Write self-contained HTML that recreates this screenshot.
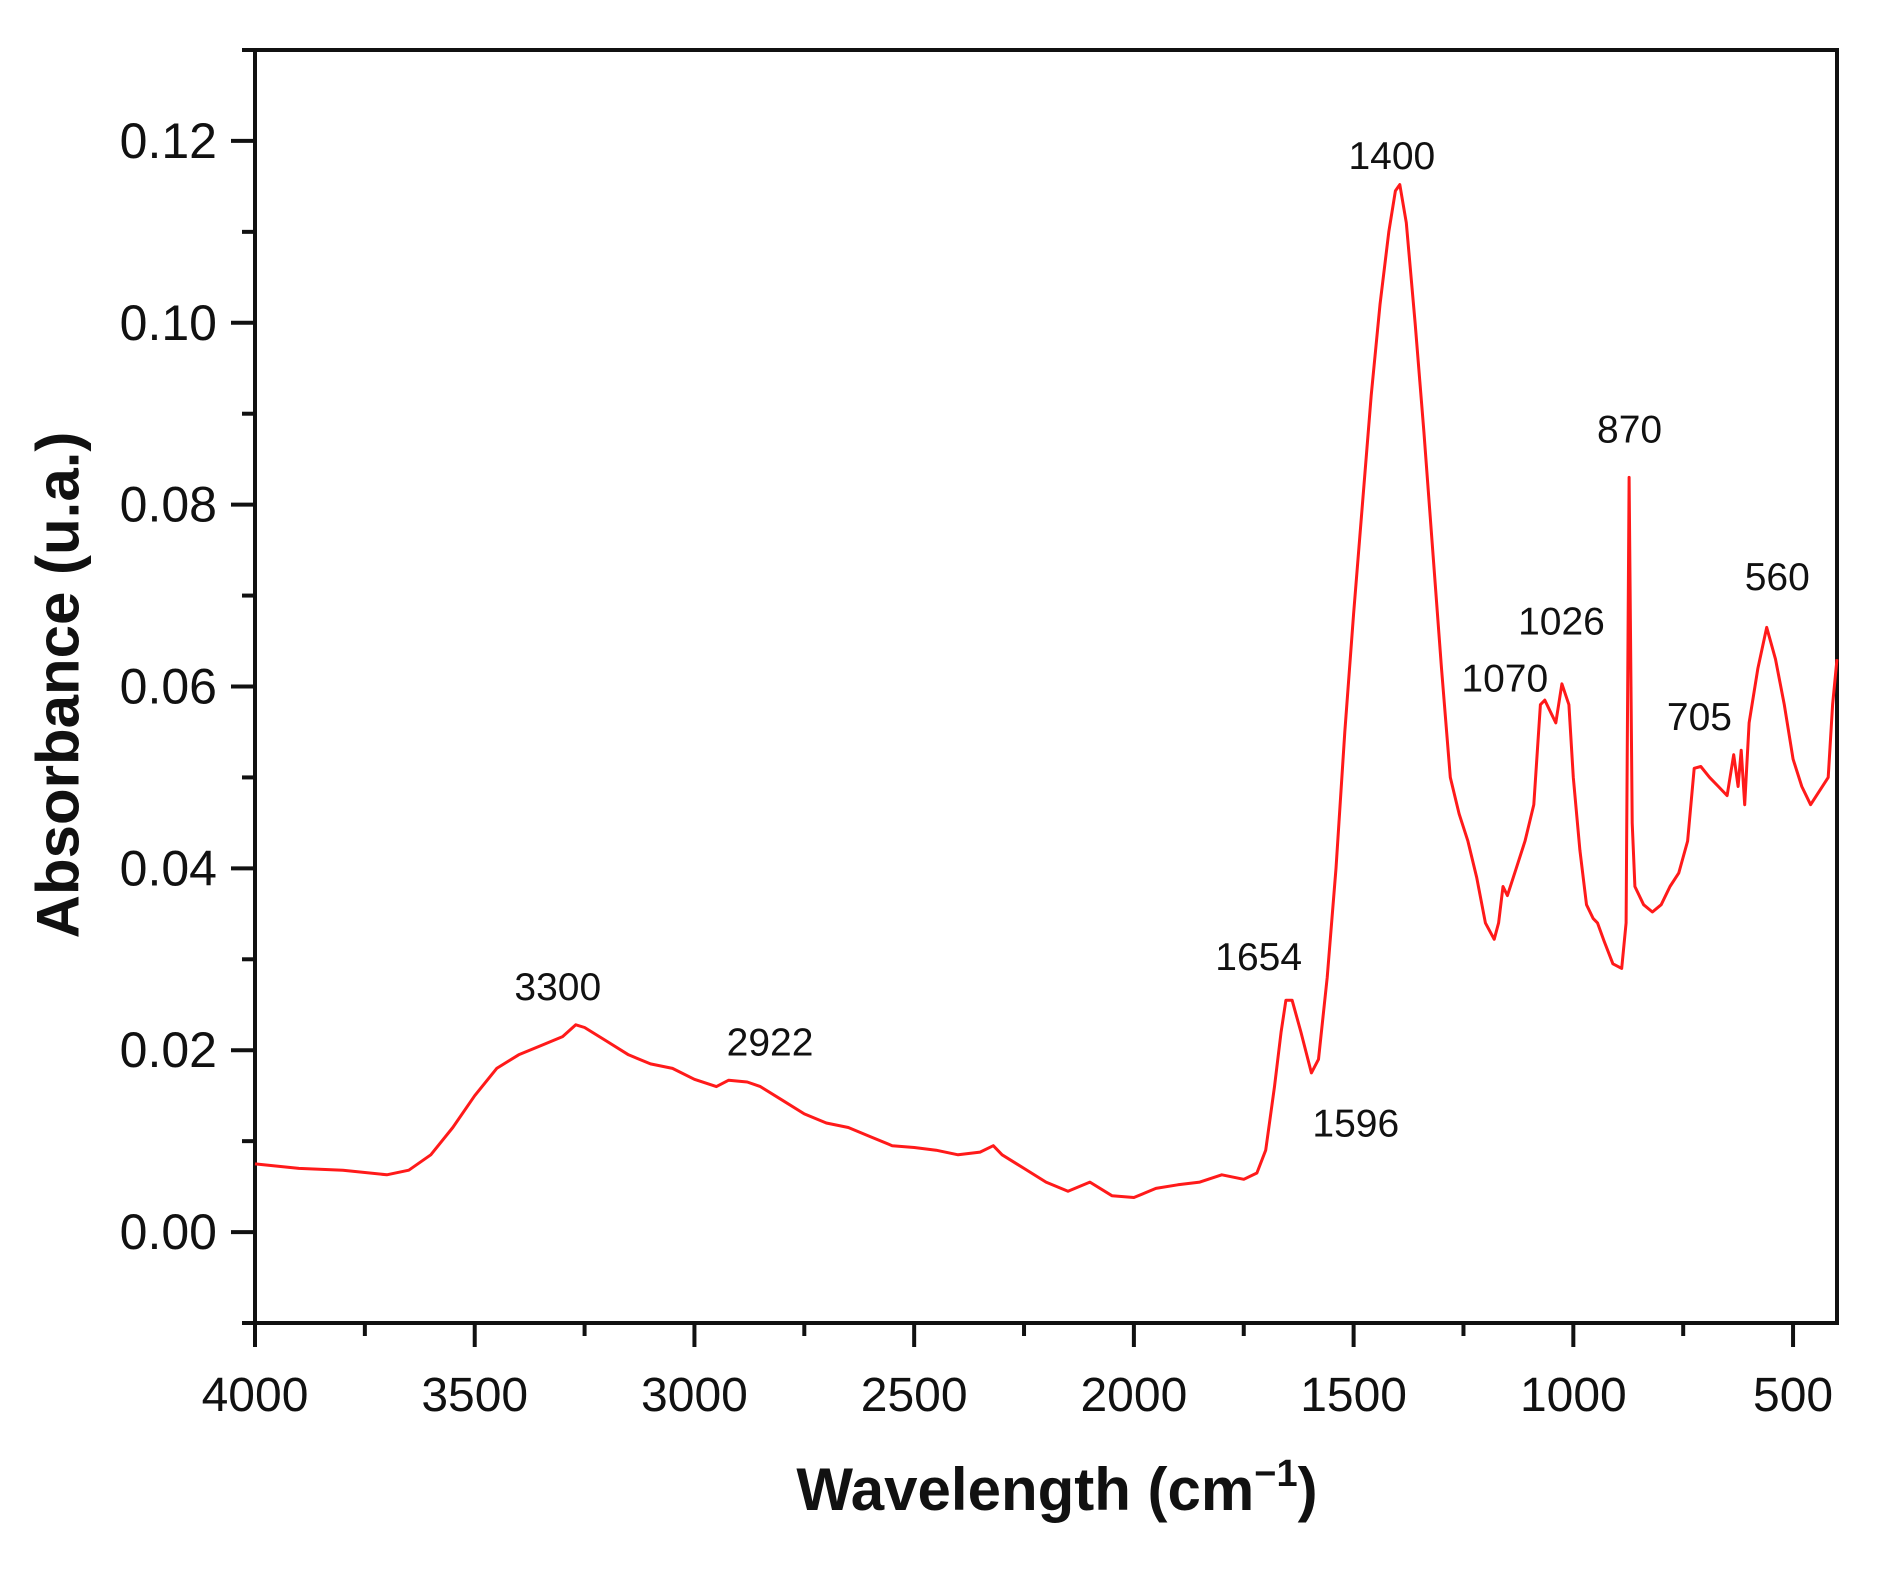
<!DOCTYPE html>
<html><head><meta charset="utf-8"><style>
html,body{margin:0;padding:0;background:#fff;}
svg{display:block;font-family:"Liberation Sans",Arial,sans-serif;}
</style></head><body>
<svg id="chart" width="1884" height="1571" viewBox="0 0 1884 1571" xmlns="http://www.w3.org/2000/svg">
<g id="axes"></g>
<path id="spectrum" fill="none" stroke="#ff1a1a" stroke-width="3" stroke-linejoin="round"/>
<g id="annots"></g>
<text x="58" y="685" transform="rotate(-90 58 685)" text-anchor="middle" dominant-baseline="central" font-size="60" font-weight="bold" fill="#111">Absorbance (u.a.)</text>
<text x="1057" y="1510" text-anchor="middle" font-size="60" font-weight="bold" fill="#111">Wavelength (cm<tspan dy="-24" font-size="38">−1</tspan><tspan dy="24">)</tspan></text>
</svg>
<script>
const wavenumbers=[4000,3900,3800,3700,3650,3600,3550,3500,3450,3400,3350,3300,3270,3250,3200,3150,3100,3050,3000,2950,2922,2880,2850,2800,2750,2700,2650,2600,2550,2500,2450,2400,2350,2320,2300,2250,2200,2150,2100,2050,2000,1950,1900,1850,1800,1750,1720,1700,1680,1665,1654,1640,1620,1596,1580,1560,1540,1520,1500,1480,1460,1440,1420,1405,1395,1380,1360,1340,1320,1300,1280,1260,1240,1220,1200,1180,1170,1160,1150,1130,1110,1090,1075,1065,1050,1040,1026,1010,1000,985,970,955,945,930,910,890,880,873,866,860,840,820,800,780,760,740,725,710,690,670,650,635,625,618,610,600,580,560,540,520,500,480,460,440,420,410,400];
const absorbance=[0.0075,0.007,0.0068,0.0063,0.0068,0.0085,0.0115,0.015,0.018,0.0195,0.0205,0.0215,0.0228,0.0225,0.021,0.0195,0.0185,0.018,0.0168,0.016,0.0167,0.0165,0.016,0.0145,0.013,0.012,0.0115,0.0105,0.0095,0.0093,0.009,0.0085,0.0088,0.0095,0.0085,0.007,0.0055,0.0045,0.0055,0.004,0.0038,0.0048,0.0052,0.0055,0.0063,0.0058,0.0065,0.009,0.016,0.022,0.0255,0.0255,0.022,0.0175,0.019,0.028,0.04,0.055,0.068,0.08,0.092,0.102,0.11,0.1145,0.1152,0.111,0.1,0.088,0.075,0.062,0.05,0.046,0.043,0.039,0.034,0.0322,0.034,0.038,0.037,0.04,0.043,0.047,0.058,0.0585,0.057,0.056,0.0603,0.058,0.05,0.042,0.036,0.0345,0.034,0.032,0.0295,0.029,0.034,0.083,0.045,0.038,0.036,0.0352,0.036,0.038,0.0395,0.043,0.051,0.0512,0.05,0.049,0.048,0.0525,0.049,0.053,0.047,0.056,0.062,0.0665,0.063,0.058,0.052,0.049,0.047,0.0485,0.05,0.058,0.063];
const xTickValues=[4000,3500,3000,2500,2000,1500,1000,500];
const yTickLabels=["0.00","0.02","0.04","0.06","0.08","0.10","0.12"];
const peakLabels=["3300","2922","1654","1596","1400","1070","1026","870","705","560"];
const peakLabelX=[3311,2828,1716,1495,1413,1156,1027,872,713,536];
const peakLabelY=[0.0269,0.0208,0.0302,0.0119,0.1183,0.0608,0.0671,0.0882,0.0566,0.0720];

const NS="http://www.w3.org/2000/svg";
const L=255,R=1837,T=50,B=1323;
const X0=4000,X1=400,Y0=-0.01,Y1=0.13;
function sx(v){return L+(X0-v)/(X0-X1)*(R-L);}
function sy(v){return B-(v-Y0)/(Y1-Y0)*(B-T);}
function mk(tag,attrs,parent){const e=document.createElementNS(NS,tag);for(const k in attrs)e.setAttribute(k,attrs[k]);parent.appendChild(e);return e;}
const axes=document.getElementById('axes');
const frame=mk('rect',{x:L,y:T,width:R-L,height:B-T,fill:'none',stroke:'#111','stroke-width':4},axes);


for(let v=4000;v>=500;v-=250){
  const major=(v%500===0);
  const t=mk('line',{x1:sx(v),x2:sx(v),y1:B,y2:B+(major?24:13),stroke:'#111','stroke-width':4},axes);
  
  
}
xTickValues.forEach(v=>{
  const t=mk('text',{x:sx(v),y:B+88,'text-anchor':'middle','font-size':48,fill:'#111'},axes);
  t.textContent=String(v);
  
  
});
for(let i=-1;i<=13;i++){
  const v=i*0.01;const major=(i%2===0);
  const t=mk('line',{x1:L,x2:L-(major?24:13),y1:sy(v),y2:sy(v),stroke:'#111','stroke-width':4},axes);
  
  
}
yTickLabels.forEach(s=>{
  const v=parseFloat(s);
  const t=mk('text',{x:L-38,y:sy(v),'text-anchor':'end','dominant-baseline':'central','font-size':50,fill:'#111'},axes);
  t.textContent=s;
  
  
});
let d='';
wavenumbers.forEach((w,i)=>{d+=(i?'L':'M')+sx(w).toFixed(1)+','+sy(absorbance[i]).toFixed(1);});
document.getElementById('spectrum').setAttribute('d',d);
const ann=document.getElementById('annots');
peakLabels.forEach((s,i)=>{
  const t=mk('text',{x:sx(peakLabelX[i]),y:sy(peakLabelY[i]),'text-anchor':'middle','dominant-baseline':'central','font-size':39,fill:'#111'},ann);
  t.textContent=s;
  
  
});
</script>
</body></html>
